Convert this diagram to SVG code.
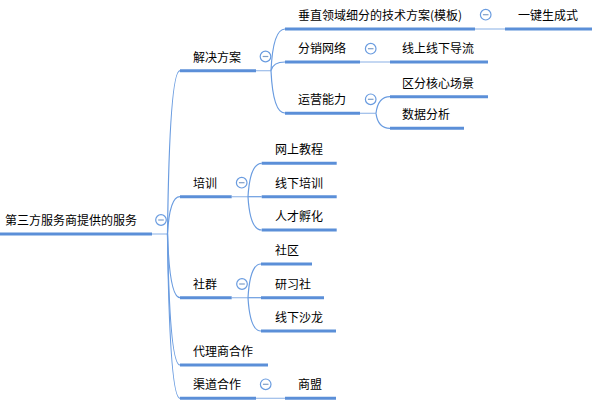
<svg xmlns="http://www.w3.org/2000/svg" width="600" height="412" viewBox="0 0 600 412">
<style>
text{font-family:"Noto Sans CJK SC","Microsoft YaHei",sans-serif;font-size:12px;fill:#000}
.ul{stroke:#5b8fd8;stroke-width:3;fill:none}
.cn{stroke:#6a9ce0;stroke-width:1.2;fill:none}
.th{stroke:#9cbde9;stroke-width:1.2;fill:none}
.mc{fill:#fff;stroke:#6a9ce0;stroke-width:1.2}
.ml{stroke:#7f9fc8;stroke-width:1.2}
</style>
<defs>
<g id="minus"><circle class="mc" cx="0" cy="0" r="5.3"/><line class="ml" x1="-2.8" y1="0" x2="2.8" y2="0"/></g>
</defs>
<rect width="600" height="412" fill="#fff"/>
<g id="connectors">
<path class="th" d="M152 234H167.5"/>
<path class="cn" d="M167.5 234Q169.5 70.7 180 70.7"/>
<path class="cn" d="M167.5 234Q169.5 196.7 180 196.7"/>
<path class="cn" d="M167.5 234Q169.5 297.7 180 297.7"/>
<path class="cn" d="M167.5 234Q169.5 365 180 365"/>
<path class="cn" d="M167.5 234Q169.5 398.3 180 398.3"/>
<path class="th" d="M256 70.7H271"/>
<path class="cn" d="M271 70.7Q273 29 285 29"/>
<path class="cn" d="M271 70.7Q273 62 285 62"/>
<path class="cn" d="M271 70.7Q273 113 285 113"/>
<path class="th" d="M475 29H505"/>
<path class="th" d="M360 62H390"/>
<path class="th" d="M360 113.3H376"/>
<path class="cn" d="M376 113.3Q378 96.7 390 96.7"/>
<path class="cn" d="M376 113.3Q378 128.3 390 128.3"/>
<path class="th" d="M231.7 196.7H248"/>
<path class="cn" d="M248 196.7Q250 163.3 261.7 163.3"/>
<path class="cn" d="M248 196.7H261.7"/>
<path class="cn" d="M248 196.7Q250 230 261.7 230"/>
<path class="th" d="M231.7 297.7H248"/>
<path class="cn" d="M248 297.7Q250 264 261 264"/>
<path class="cn" d="M248 297.7H261"/>
<path class="cn" d="M248 297.7Q250 331 261 331"/>
<path class="th" d="M256 398.3H285"/>
</g>
<g id="root"><text x="5" y="225">第三方服务商提供的服务</text><path class="ul" d="M0 234H152"/><use href="#minus" x="161" y="220"/></g>
<g id="n-jjfa"><text x="193" y="62">解决方案</text><path class="ul" d="M180 70.7H256"/><use href="#minus" x="265.5" y="56.5"/></g>
<g id="n-czly"><text x="298" y="20">垂直领域细分的技术方案(模板)</text><path class="ul" d="M285 29H475"/><use href="#minus" x="485.7" y="14.7"/></g>
<g id="n-yjsc"><text x="518" y="20">一键生成式</text><path class="ul" d="M505 29H592"/></g>
<g id="n-fxwl"><text x="298" y="53">分销网络</text><path class="ul" d="M285 62H360"/><use href="#minus" x="370.7" y="48.7"/></g>
<g id="n-xsxx"><text x="402" y="53">线上线下导流</text><path class="ul" d="M390 62H488"/></g>
<g id="n-yynl"><text x="298" y="104.3">运营能力</text><path class="ul" d="M285 113.3H360"/><use href="#minus" x="370.7" y="99.3"/></g>
<g id="n-qfhx"><text x="402" y="87.7">区分核心场景</text><path class="ul" d="M390 96.7H488"/></g>
<g id="n-sjfx"><text x="402" y="119.3">数据分析</text><path class="ul" d="M390 128.3H464"/></g>
<g id="n-px"><text x="193" y="187.7">培训</text><path class="ul" d="M180 196.7H231.7"/><use href="#minus" x="241.7" y="182.7"/></g>
<g id="n-wsjc"><text x="275" y="154.3">网上教程</text><path class="ul" d="M261.7 163.3H336.7"/></g>
<g id="n-xxpx"><text x="275" y="187.7">线下培训</text><path class="ul" d="M261.7 196.7H336.7"/></g>
<g id="n-rcfh"><text x="275" y="221">人才孵化</text><path class="ul" d="M261.7 230H336.7"/></g>
<g id="n-sq"><text x="193" y="288.7">社群</text><path class="ul" d="M180 297.7H231.7"/><use href="#minus" x="242" y="284"/></g>
<g id="n-sq2"><text x="275" y="255">社区</text><path class="ul" d="M261 264H312"/></g>
<g id="n-yxs"><text x="275" y="288.7">研习社</text><path class="ul" d="M261 297.7H324"/></g>
<g id="n-xxsl"><text x="275" y="322">线下沙龙</text><path class="ul" d="M261 331H336"/></g>
<g id="n-dls"><text x="193" y="356">代理商合作</text><path class="ul" d="M180 365H268"/></g>
<g id="n-qd"><text x="193" y="389.3">渠道合作</text><path class="ul" d="M180 398.3H256"/><use href="#minus" x="265.7" y="384.3"/></g>
<g id="n-sm"><text x="298" y="389.3">商盟</text><path class="ul" d="M285 398.3H336"/></g>
</svg>
